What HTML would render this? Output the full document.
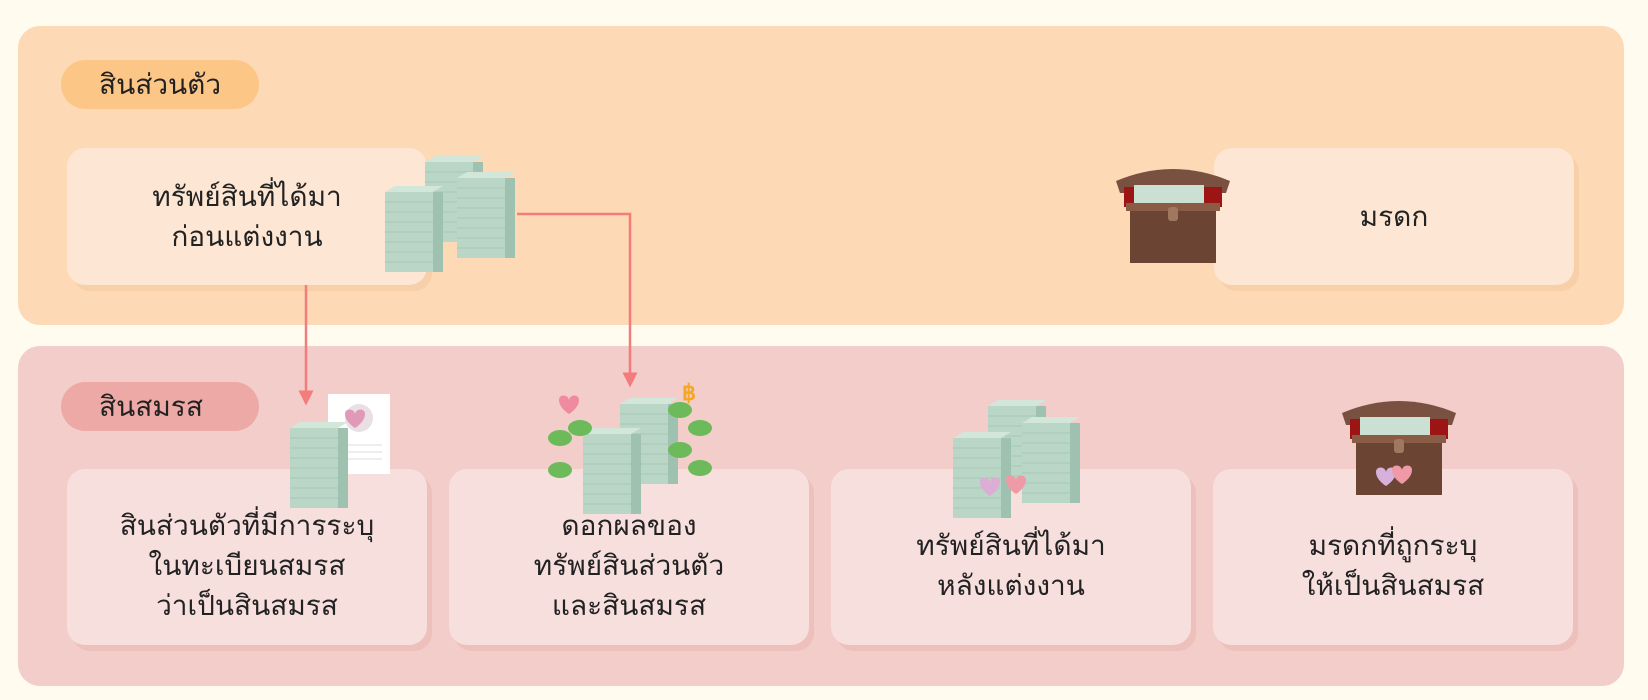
<!DOCTYPE html>
<html><head><meta charset="utf-8"><style>
*{margin:0;padding:0;box-sizing:border-box}
body{width:1648px;height:700px;background:#fffbef;position:relative;overflow:hidden;font-family:"Liberation Sans","DejaVu Sans",sans-serif;color:#222}
.panel{position:absolute;left:18px;width:1606px;border-radius:22px}
.pill{position:absolute;left:61px;width:198px;height:49px;border-radius:25px;font-size:28px;line-height:49px;padding-left:38px}
.card{position:absolute;width:360px;border-radius:18px;display:flex;align-items:center;justify-content:center;text-align:center;font-size:28px;line-height:40px}
.top{background:#fde6d3;box-shadow:5px 6px 0 #f7cfa9;height:137px;top:148px}
.bot{background:#f7dfdd;box-shadow:5px 6px 0 #edc0bb;height:176px;top:469px;padding-top:18px}
svg{position:absolute;left:0;top:0}
</style></head><body>
<div class="panel" style="top:26px;height:299px;background:#fdd9b5"></div>
<div class="panel" style="top:346px;height:340px;background:#f2cdc9"></div>
<div class="pill" style="top:60px;background:#fbc686">สินส่วนตัว</div>
<div class="pill" style="top:382px;background:#eca9a5">สินสมรส</div>
<div class="card top" style="left:67px">ทรัพย์สินที่ได้มา<br>ก่อนแต่งงาน</div>
<div class="card top" style="left:1214px">มรดก</div>
<div class="card bot" style="left:67px">สินส่วนตัวที่มีการระบุ<br>ในทะเบียนสมรส<br>ว่าเป็นสินสมรส</div>
<div class="card bot" style="left:449px">ดอกผลของ<br>ทรัพย์สินส่วนตัว<br>และสินสมรส</div>
<div class="card bot" style="left:831px">ทรัพย์สินที่ได้มา<br>หลังแต่งงาน</div>
<div class="card bot" style="left:1213px">มรดกที่ถูกระบุ<br>ให้เป็นสินสมรส</div>
<svg width="1648" height="700">
<defs>
<g id="stk"><rect x="0" y="6" width="48" height="80" fill="#b9d6c6"/><rect x="48" y="6" width="10" height="80" fill="#9fc2b0"/><polygon points="0,6 10,0 58,0 48,6" fill="#d3e6da"/>
<g stroke="#a8c8b6" stroke-width="1"><line x1="0" y1="16" x2="48" y2="16"/><line x1="0" y1="26" x2="48" y2="26"/><line x1="0" y1="36" x2="48" y2="36"/><line x1="0" y1="46" x2="48" y2="46"/><line x1="0" y1="56" x2="48" y2="56"/><line x1="0" y1="66" x2="48" y2="66"/><line x1="0" y1="76" x2="48" y2="76"/></g></g>
<g id="chest"><path d="M0,18 Q57,-6 114,18 L110,30 L4,30 Z" fill="#7a5040"/><rect x="8" y="24" width="98" height="20" fill="#9c1414"/><rect x="18" y="22" width="70" height="22" fill="#c9e0d3"/><rect x="14" y="42" width="86" height="58" fill="#6b4433"/><rect x="10" y="40" width="94" height="8" fill="#8a5b45"/><rect x="52" y="44" width="10" height="14" rx="3" fill="#a07860"/></g>
<path id="heart" d="M0,4 C0,-2 9,-2 10,4 C11,-2 20,-2 20,4 C20,12 10,18 10,18 C10,18 0,12 0,4Z"/>
<marker id="ar" markerWidth="6" markerHeight="6" refX="3" refY="3" orient="auto"><path d="M0,0 L6,3 L0,6 Z" fill="#f47c7c"/></marker>
</defs>
<g fill="none" stroke="#f47c7c" stroke-width="2.5">
<path d="M306,285 L306,398" marker-end="url(#ar)"/>
<path d="M517,214 L630,214 L630,380" marker-end="url(#ar)"/>
</g>
<use href="#stk" x="425" y="156"/><use href="#stk" x="457" y="172"/><use href="#stk" x="385" y="186"/>
<use href="#chest" x="1116" y="163"/>
<rect x="328" y="394" width="62" height="80" fill="#fff"/><circle cx="359" cy="418" r="14" fill="#e8e0e4"/>
<use href="#heart" x="345" y="410" fill="#e09ab8"/><g stroke="#ddd"><line x1="340" y1="445" x2="382" y2="445"/><line x1="340" y1="452" x2="382" y2="452"/><line x1="340" y1="459" x2="382" y2="459"/></g>
<use href="#stk" x="290" y="422"/>
<use href="#stk" x="620" y="398"/><use href="#stk" x="583" y="428"/>
<g fill="#6cba5a"><ellipse cx="560" cy="438" rx="12" ry="8"/><ellipse cx="580" cy="428" rx="12" ry="8"/><ellipse cx="560" cy="470" rx="12" ry="8"/><ellipse cx="680" cy="410" rx="12" ry="8"/><ellipse cx="700" cy="428" rx="12" ry="8"/><ellipse cx="680" cy="450" rx="12" ry="8"/><ellipse cx="700" cy="468" rx="12" ry="8"/></g>
<use href="#heart" x="559" y="396" fill="#f08aa0"/>
<text x="682" y="400" fill="#f5a623" font-size="22" font-weight="bold" font-family="Liberation Sans,sans-serif">฿</text>
<use href="#stk" x="988" y="400"/><use href="#stk" x="1022" y="417"/><use href="#stk" x="953" y="432"/>
<use href="#heart" x="980" y="478" fill="#dcaed6"/><use href="#heart" x="1006" y="476" fill="#ef9aa6"/>
<use href="#chest" x="1342" y="395"/>
<use href="#heart" x="1376" y="468" fill="#d8b0dc"/><use href="#heart" x="1392" y="466" fill="#ef9aa6"/>
</svg>
</body></html>
